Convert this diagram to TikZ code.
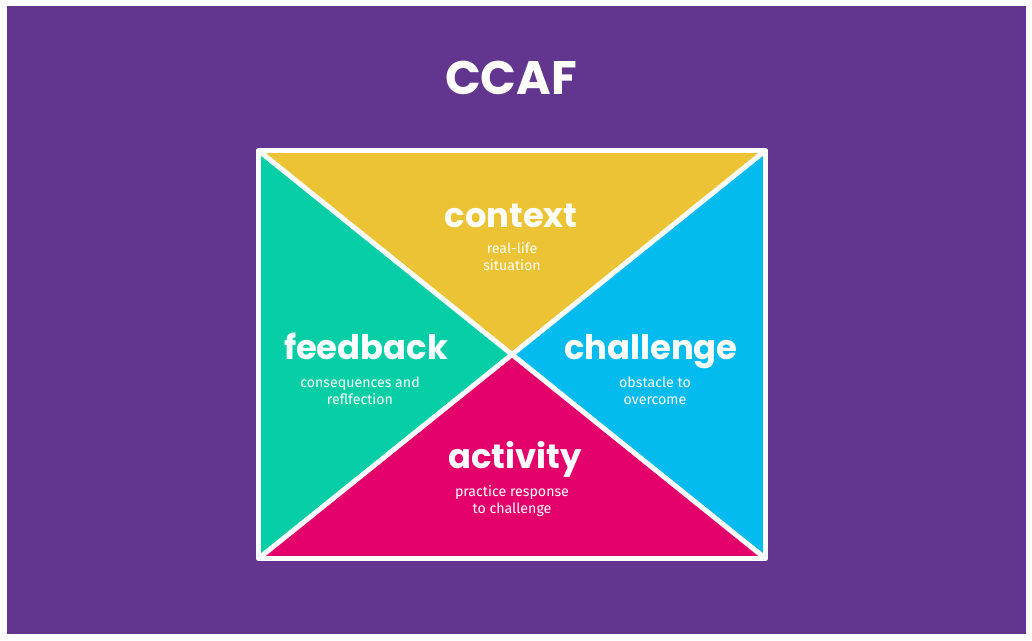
\documentclass[tikz,border=0pt]{standalone}
\usepackage{fontspec}
\setmainfont{Poppins}
\newfontfamily\subfont{Fira Sans}
\definecolor{ccafpurple}{HTML}{62358F}
\definecolor{ccafyellow}{HTML}{EBC335}
\definecolor{ccafgreen}{HTML}{05CEA6}
\definecolor{ccafblue}{HTML}{04BBF0}
\definecolor{ccafpink}{HTML}{E4006A}
\tikzset{
  head/.style={text=white, font=\fontsize{33.8}{33.8}\selectfont\bfseries, anchor=base, inner sep=0pt},
  subline/.style={text=white, font=\subfont\fontsize{14.2}{16.8}\selectfont, align=center, anchor=base, inner sep=0pt},
}
\begin{document}
\begin{tikzpicture}[x=1pt,y=-1pt]
                  \useasboundingbox (0,0) rectangle (1032,640);
                  \fill[white] (0,0) rectangle (1032,640);
                  \fill[ccafpurple] (7,6) rectangle (1026,634);

                  \node[text=white, font=\fontsize{47}{47}\selectfont\bfseries, anchor=base, inner sep=0pt] (title) at (511,94) {CCAF};

                  % the four corners and the crossing point
                  \coordinate (tl) at (258.5,150.5);
                  \coordinate (tr) at (765.5,150.5);
                  \coordinate (br) at (765.5,558.5);
                  \coordinate (bl) at (258.5,558.5);
                  \coordinate (mid) at (512,354.5);

                  \begin{scope}[draw=transparent]
                      \fill[ccafyellow] (tl) -- (tr) -- (mid) -- cycle;
                      \fill[ccafblue] (tr) -- (br) -- (mid) -- cycle;
                      \fill[ccafpink] (br) -- (bl) -- (mid) -- cycle;
                      \fill[ccafgreen] (bl) -- (tl) -- (mid) -- cycle;
                  \end{scope}

                  \begin{scope}[draw=white, line width=5pt, line join=round]
                      \draw (tl) -- (tr) -- (br) -- (bl) -- cycle;
                      \draw (tl) -- (br);
                      \draw (tr) -- (bl);
                  \end{scope}

                  % base anchor of the two-line texts sits on their last line
                  \node[head] (context) at (511,227) {context};
                  \node[subline] (contextsub) at (512,270) {real-life\\situation};

                  \node[head] (feedback) at (366,359) {feedback};
                  \node[subline] (feedbacksub) at (360,404) {consequences and\\reflfection};

                  \node[head] (challenge) at (651,359) {challenge};
                  \node[subline] (challengesub) at (655,404) {obstacle to\\overcome};

                  \node[head] (activity) at (515,468) {activity};
                  \node[subline] (activitysub) at (512,513) {practice response\\to challenge};
              \end{tikzpicture}
\end{document}
